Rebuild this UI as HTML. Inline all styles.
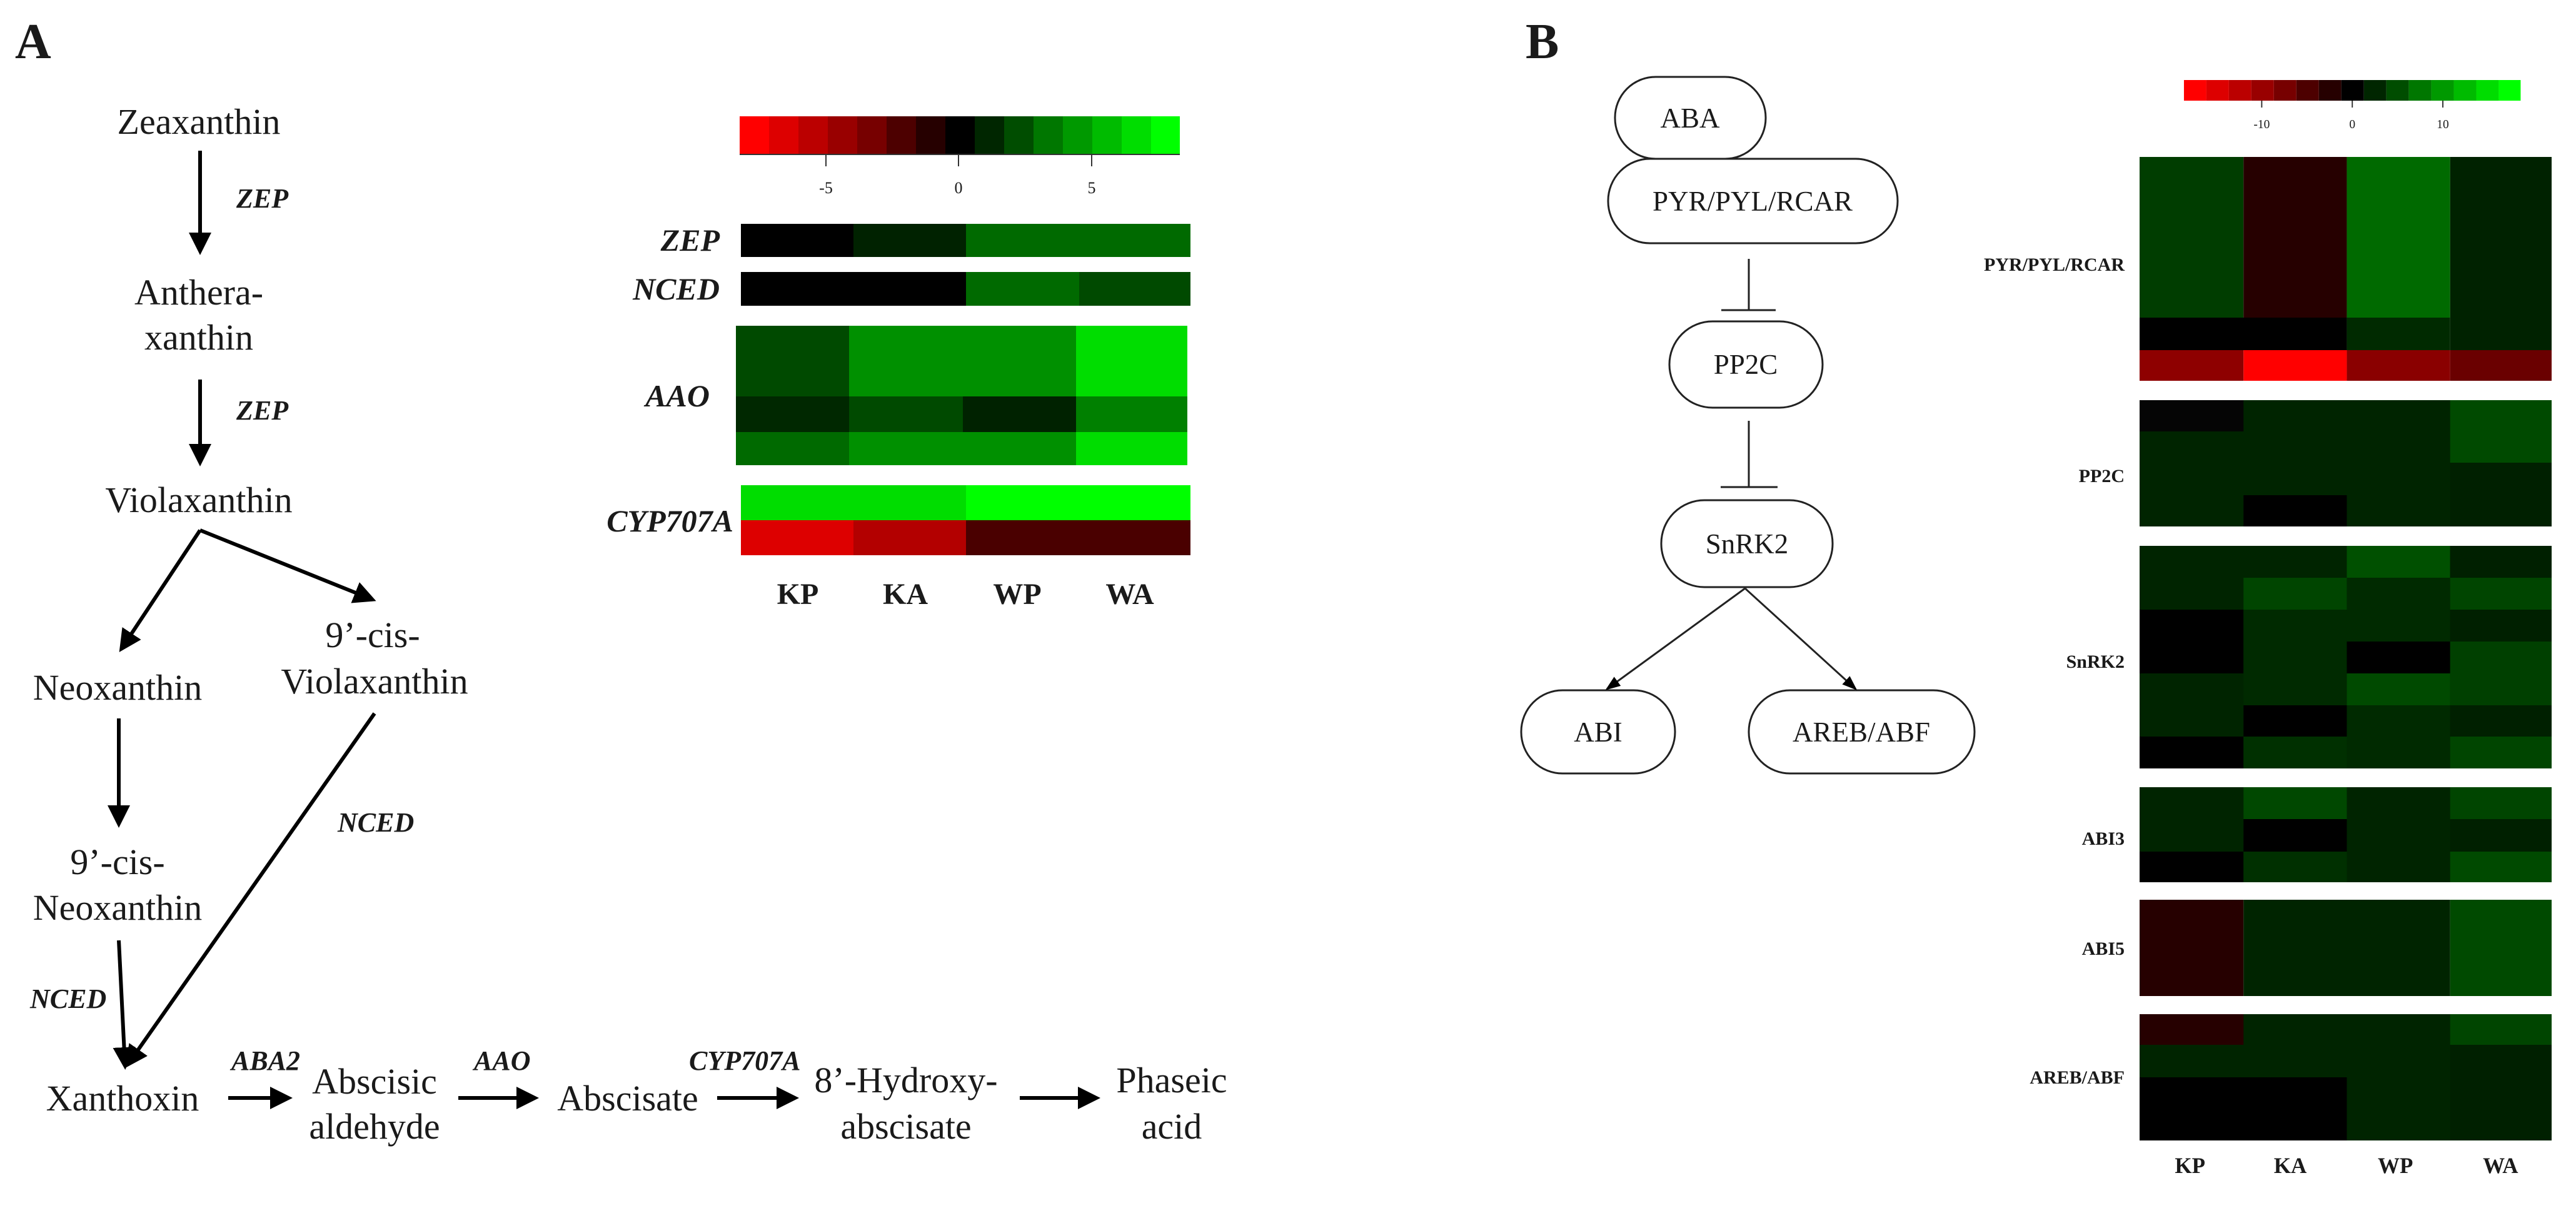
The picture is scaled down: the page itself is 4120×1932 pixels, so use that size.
<!DOCTYPE html>
<html><head><meta charset="utf-8"><style>
html,body{margin:0;padding:0;background:#fff;}
svg{display:block;}
text{font-family:"Liberation Serif",serif;fill:#1a1a1a;}
.n{font-size:58px;}
.e{font-size:44px;font-style:italic;font-weight:bold;}
.h{font-size:50px;font-style:italic;font-weight:bold;}
.c{font-size:48px;font-weight:bold;}
.t{font-size:26px;fill:#555;}
.b{font-size:45px;}
.bl{font-size:30px;font-weight:bold;}
.bc{font-size:36px;font-weight:bold;}
</style></head><body>
<svg width="4120" height="1932" viewBox="0 0 4120 1932" xmlns="http://www.w3.org/2000/svg">
<defs>
<marker id="ah" markerWidth="6" markerHeight="6" refX="5" refY="3" orient="auto" markerUnits="strokeWidth"><path d="M0,0 L6,3 L0,6 z" fill="#000"/></marker>
<marker id="ab" markerWidth="8" markerHeight="8" refX="7" refY="4" orient="auto" markerUnits="strokeWidth"><path d="M0,1 L8,4 L0,7 z" fill="#000"/></marker>
</defs>
<rect width="4120" height="1932" fill="#fff"/>
<!-- Panel A -->
<text x="24" y="93" style="font-size:80px;font-weight:bold">A</text>
<g class="n" text-anchor="middle">
<text x="318" y="214">Zeaxanthin</text>
<text x="318" y="487">Anthera-</text>
<text x="318" y="559">xanthin</text>
<text x="318" y="819">Violaxanthin</text>
<text x="188" y="1119">Neoxanthin</text>
<text x="596" y="1035">9’-cis-</text>
<text x="599" y="1109">Violaxanthin</text>
<text x="188" y="1398">9’-cis-</text>
<text x="188" y="1471">Neoxanthin</text>
<text x="196" y="1776">Xanthoxin</text>
<text x="599" y="1749">Abscisic</text>
<text x="599" y="1821">aldehyde</text>
<text x="1004" y="1776">Abscisate</text>
<text x="1449" y="1747">8’-Hydroxy-</text>
<text x="1449" y="1821">abscisate</text>
<text x="1874" y="1747">Phaseic</text>
<text x="1874" y="1821">acid</text>
</g>
<g class="e">
<text x="378" y="332">ZEP</text>
<text x="378" y="671">ZEP</text>
<text x="48" y="1612">NCED</text>
<text x="540" y="1330">NCED</text>
<text x="370" y="1711">ABA2</text>
<text x="758" y="1711">AAO</text>
<text x="1102" y="1711">CYP707A</text>
</g>
<g stroke="#000" stroke-width="6" fill="none" marker-end="url(#ah)">
<line x1="320" y1="241" x2="320" y2="402"/>
<line x1="320" y1="607" x2="320" y2="740"/>
<line x1="320" y1="848" x2="194" y2="1038"/>
<line x1="320" y1="848" x2="596" y2="959"/>
<line x1="190" y1="1149" x2="190" y2="1318"/>
<line x1="190" y1="1504" x2="200" y2="1705"/>
<line x1="599" y1="1141" x2="204" y2="1703"/>
<line x1="365" y1="1756" x2="462" y2="1756"/>
<line x1="733" y1="1756" x2="856" y2="1756"/>
<line x1="1147" y1="1756" x2="1272" y2="1756"/>
<line x1="1631" y1="1756" x2="1754" y2="1756"/>
</g>
<!-- colorbar A -->
<g>
<rect x="1183" y="186" width="47" height="61" fill="#ff0000"/>
<rect x="1230" y="186" width="47" height="61" fill="#dd0000"/>
<rect x="1277" y="186" width="47" height="61" fill="#bb0000"/>
<rect x="1324" y="186" width="47" height="61" fill="#990000"/>
<rect x="1371" y="186" width="47" height="61" fill="#770000"/>
<rect x="1418" y="186" width="47" height="61" fill="#4d0000"/>
<rect x="1465" y="186" width="47" height="61" fill="#260000"/>
<rect x="1512" y="186" width="47" height="61" fill="#000"/>
<rect x="1559" y="186" width="47" height="61" fill="#002600"/>
<rect x="1606" y="186" width="47" height="61" fill="#004d00"/>
<rect x="1653" y="186" width="47" height="61" fill="#007700"/>
<rect x="1700" y="186" width="47" height="61" fill="#009900"/>
<rect x="1747" y="186" width="47" height="61" fill="#00bb00"/>
<rect x="1794" y="186" width="47" height="61" fill="#00dd00"/>
<rect x="1841" y="186" width="46" height="61" fill="#00ff00"/>
<line x1="1183" y1="247" x2="1887" y2="247" stroke="#333" stroke-width="2"/>
<g stroke="#333" stroke-width="2"><line x1="1321" y1="247" x2="1321" y2="266"/><line x1="1533" y1="247" x2="1533" y2="266"/><line x1="1746" y1="247" x2="1746" y2="266"/></g>
<g class="t" text-anchor="middle"><text x="1321" y="309">-5</text><text x="1533" y="309">0</text><text x="1746" y="309">5</text></g>
</g>
<!-- heatmap A -->
<rect x="1185" y="358" width="180" height="53" fill="#000"/>
<rect x="1365" y="358" width="180" height="53" fill="#002200"/>
<rect x="1545" y="358" width="359" height="53" fill="#006a00"/>
<rect x="1185" y="435" width="360" height="54" fill="#000"/>
<rect x="1545" y="435" width="181" height="54" fill="#006a00"/>
<rect x="1726" y="435" width="178" height="54" fill="#004a00"/>
<rect x="1177" y="521" width="181" height="113" fill="#004a00"/>
<rect x="1358" y="521" width="363" height="113" fill="#009000"/>
<rect x="1721" y="521" width="178" height="113" fill="#00dd00"/>
<rect x="1177" y="634" width="181" height="57" fill="#002800"/>
<rect x="1358" y="634" width="182" height="57" fill="#004a00"/>
<rect x="1540" y="634" width="181" height="57" fill="#002200"/>
<rect x="1721" y="634" width="178" height="57" fill="#008000"/>
<rect x="1177" y="691" width="181" height="53" fill="#006a00"/>
<rect x="1358" y="691" width="363" height="53" fill="#009000"/>
<rect x="1721" y="691" width="178" height="53" fill="#00dd00"/>
<rect x="1185" y="776" width="360" height="56" fill="#00dd00"/>
<rect x="1545" y="776" width="359" height="56" fill="#00ff00"/>
<rect x="1185" y="832" width="180" height="56" fill="#dd0000"/>
<rect x="1365" y="832" width="180" height="56" fill="#b30000"/>
<rect x="1545" y="832" width="359" height="56" fill="#4a0000"/>
<g class="h" text-anchor="end">
<text x="1151" y="401">ZEP</text>
<text x="1151" y="479">NCED</text>
<text x="1135" y="650">AAO</text>
<text x="1173" y="850">CYP707A</text>
</g>
<g class="c" text-anchor="middle">
<text x="1276" y="966">KP</text><text x="1448" y="966">KA</text><text x="1627" y="966">WP</text><text x="1807" y="966">WA</text>
</g>
<!-- Panel B -->
<text x="2440" y="93" style="font-size:80px;font-weight:bold">B</text>
<g fill="#fff" stroke="#222" stroke-width="3">
<rect x="2583" y="123" width="241" height="131" rx="65"/>
<rect x="2572" y="254" width="463" height="135" rx="67"/>
<rect x="2670" y="514" width="245" height="138" rx="69"/>
<rect x="2657" y="800" width="274" height="139" rx="69"/>
<rect x="2433" y="1104" width="246" height="133" rx="66"/>
<rect x="2797" y="1104" width="361" height="133" rx="66"/>
</g>
<g class="b" text-anchor="middle">
<text x="2703" y="204">ABA</text>
<text x="2803" y="337">PYR/PYL/RCAR</text>
<text x="2792" y="598">PP2C</text>
<text x="2794" y="885">SnRK2</text>
<text x="2556" y="1186">ABI</text>
<text x="2977" y="1186">AREB/ABF</text>
</g>
<g stroke="#222" stroke-width="3" fill="none">
<line x1="2797" y1="414" x2="2797" y2="496"/>
<line x1="2753" y1="496" x2="2840" y2="496"/>
<line x1="2797" y1="673" x2="2797" y2="779"/>
<line x1="2752" y1="779" x2="2843" y2="779"/>
<line x1="2791" y1="941" x2="2570" y2="1102" marker-end="url(#ab)"/>
<line x1="2791" y1="941" x2="2968" y2="1102" marker-end="url(#ab)"/>
</g>
<g transform="translate(3422 0) scale(0.972 1) translate(-3426 0)">
<!-- colorbar B -->
<g>
<rect x="3499" y="128" width="37" height="33" fill="#ff0000"/>
<rect x="3536" y="128" width="37" height="33" fill="#dd0000"/>
<rect x="3573" y="128" width="37" height="33" fill="#bb0000"/>
<rect x="3610" y="128" width="37" height="33" fill="#990000"/>
<rect x="3647" y="128" width="37" height="33" fill="#770000"/>
<rect x="3684" y="128" width="37" height="33" fill="#4d0000"/>
<rect x="3721" y="128" width="37" height="33" fill="#260000"/>
<rect x="3758" y="128" width="37" height="33" fill="#000"/>
<rect x="3795" y="128" width="37" height="33" fill="#002600"/>
<rect x="3832" y="128" width="37" height="33" fill="#004d00"/>
<rect x="3869" y="128" width="37" height="33" fill="#007700"/>
<rect x="3906" y="128" width="37" height="33" fill="#009900"/>
<rect x="3943" y="128" width="37" height="33" fill="#00bb00"/>
<rect x="3980" y="128" width="37" height="33" fill="#00dd00"/>
<rect x="4017" y="128" width="36" height="33" fill="#00ff00"/>
<g stroke="#333" stroke-width="2"><line x1="3627" y1="161" x2="3627" y2="172"/><line x1="3776" y1="161" x2="3776" y2="172"/><line x1="3925" y1="161" x2="3925" y2="172"/></g>
<g class="t" text-anchor="middle" style="font-size:20px"><text x="3627" y="205">-10</text><text x="3776" y="205">0</text><text x="3925" y="205">10</text></g>
</g>
<g>
<rect x="3426" y="251" width="171" height="257" fill="#003d00"/>
<rect x="3597" y="251" width="170" height="257" fill="#260000"/>
<rect x="3767" y="251" width="170" height="257" fill="#006a00"/>
<rect x="3937" y="251" width="167" height="309" fill="#002200"/>
<rect x="3426" y="508" width="341" height="52" fill="#000"/>
<rect x="3767" y="508" width="170" height="52" fill="#002a00"/>
<rect x="3426" y="560" width="171" height="49" fill="#8e0000"/>
<rect x="3597" y="560" width="170" height="49" fill="#ff0000"/>
<rect x="3767" y="560" width="170" height="49" fill="#8a0000"/>
<rect x="3937" y="560" width="167" height="49" fill="#6a0000"/>
<rect x="3426" y="640" width="678" height="202" fill="#002400"/>
<rect x="3426" y="640" width="171" height="50" fill="#050505"/>
<rect x="3937" y="640" width="167" height="100" fill="#004a00"/>
<rect x="3937" y="740" width="167" height="102" fill="#002000"/>
<rect x="3597" y="792" width="170" height="50" fill="#000"/>
<rect x="3426" y="873" width="678" height="356" fill="#002400"/>
<rect x="3767" y="873" width="170" height="51" fill="#005000"/>
<rect x="3937" y="873" width="167" height="51" fill="#002000"/>
<rect x="3597" y="924" width="170" height="51" fill="#004500"/>
<rect x="3767" y="924" width="170" height="51" fill="#002a00"/>
<rect x="3937" y="924" width="167" height="51" fill="#004500"/>
<rect x="3426" y="975" width="171" height="102" fill="#000"/>
<rect x="3597" y="975" width="170" height="102" fill="#002a00"/>
<rect x="3767" y="975" width="170" height="51" fill="#002a00"/>
<rect x="3937" y="975" width="167" height="51" fill="#002000"/>
<rect x="3767" y="1026" width="170" height="51" fill="#000"/>
<rect x="3937" y="1026" width="167" height="102" fill="#004000"/>
<rect x="3597" y="1077" width="170" height="51" fill="#002a00"/>
<rect x="3767" y="1077" width="170" height="51" fill="#004a00"/>
<rect x="3597" y="1128" width="170" height="50" fill="#000"/>
<rect x="3767" y="1128" width="170" height="101" fill="#002a00"/>
<rect x="3937" y="1128" width="167" height="50" fill="#002000"/>
<rect x="3426" y="1178" width="171" height="51" fill="#000"/>
<rect x="3597" y="1178" width="170" height="51" fill="#003000"/>
<rect x="3937" y="1178" width="167" height="51" fill="#004500"/>
<rect x="3426" y="1259" width="678" height="152" fill="#002400"/>
<rect x="3597" y="1259" width="170" height="51" fill="#004800"/>
<rect x="3937" y="1259" width="167" height="51" fill="#004500"/>
<rect x="3597" y="1310" width="170" height="52" fill="#000"/>
<rect x="3937" y="1310" width="167" height="52" fill="#002000"/>
<rect x="3426" y="1362" width="171" height="49" fill="#000"/>
<rect x="3597" y="1362" width="170" height="49" fill="#003000"/>
<rect x="3937" y="1362" width="167" height="49" fill="#004a00"/>
<rect x="3426" y="1439" width="171" height="154" fill="#260000"/>
<rect x="3597" y="1439" width="340" height="154" fill="#002400"/>
<rect x="3937" y="1439" width="167" height="154" fill="#004a00"/>
<rect x="3426" y="1622" width="678" height="202" fill="#002400"/>
<rect x="3426" y="1622" width="171" height="49" fill="#260000"/>
<rect x="3937" y="1622" width="167" height="49" fill="#004500"/>
<rect x="3937" y="1671" width="167" height="153" fill="#002000"/>
<rect x="3426" y="1723" width="341" height="101" fill="#000"/>
</g>
<g class="bc" text-anchor="middle">
<text x="3509" y="1876">KP</text><text x="3674" y="1876">KA</text><text x="3847" y="1876">WP</text><text x="4020" y="1876">WA</text>
</g>
</g>
<g class="bl" text-anchor="end">
<text x="3398" y="433">PYR/PYL/RCAR</text>
<text x="3398" y="771">PP2C</text>
<text x="3398" y="1068">SnRK2</text>
<text x="3398" y="1351">ABI3</text>
<text x="3398" y="1527">ABI5</text>
<text x="3398" y="1733">AREB/ABF</text>
</g>
</svg>
</body></html>
